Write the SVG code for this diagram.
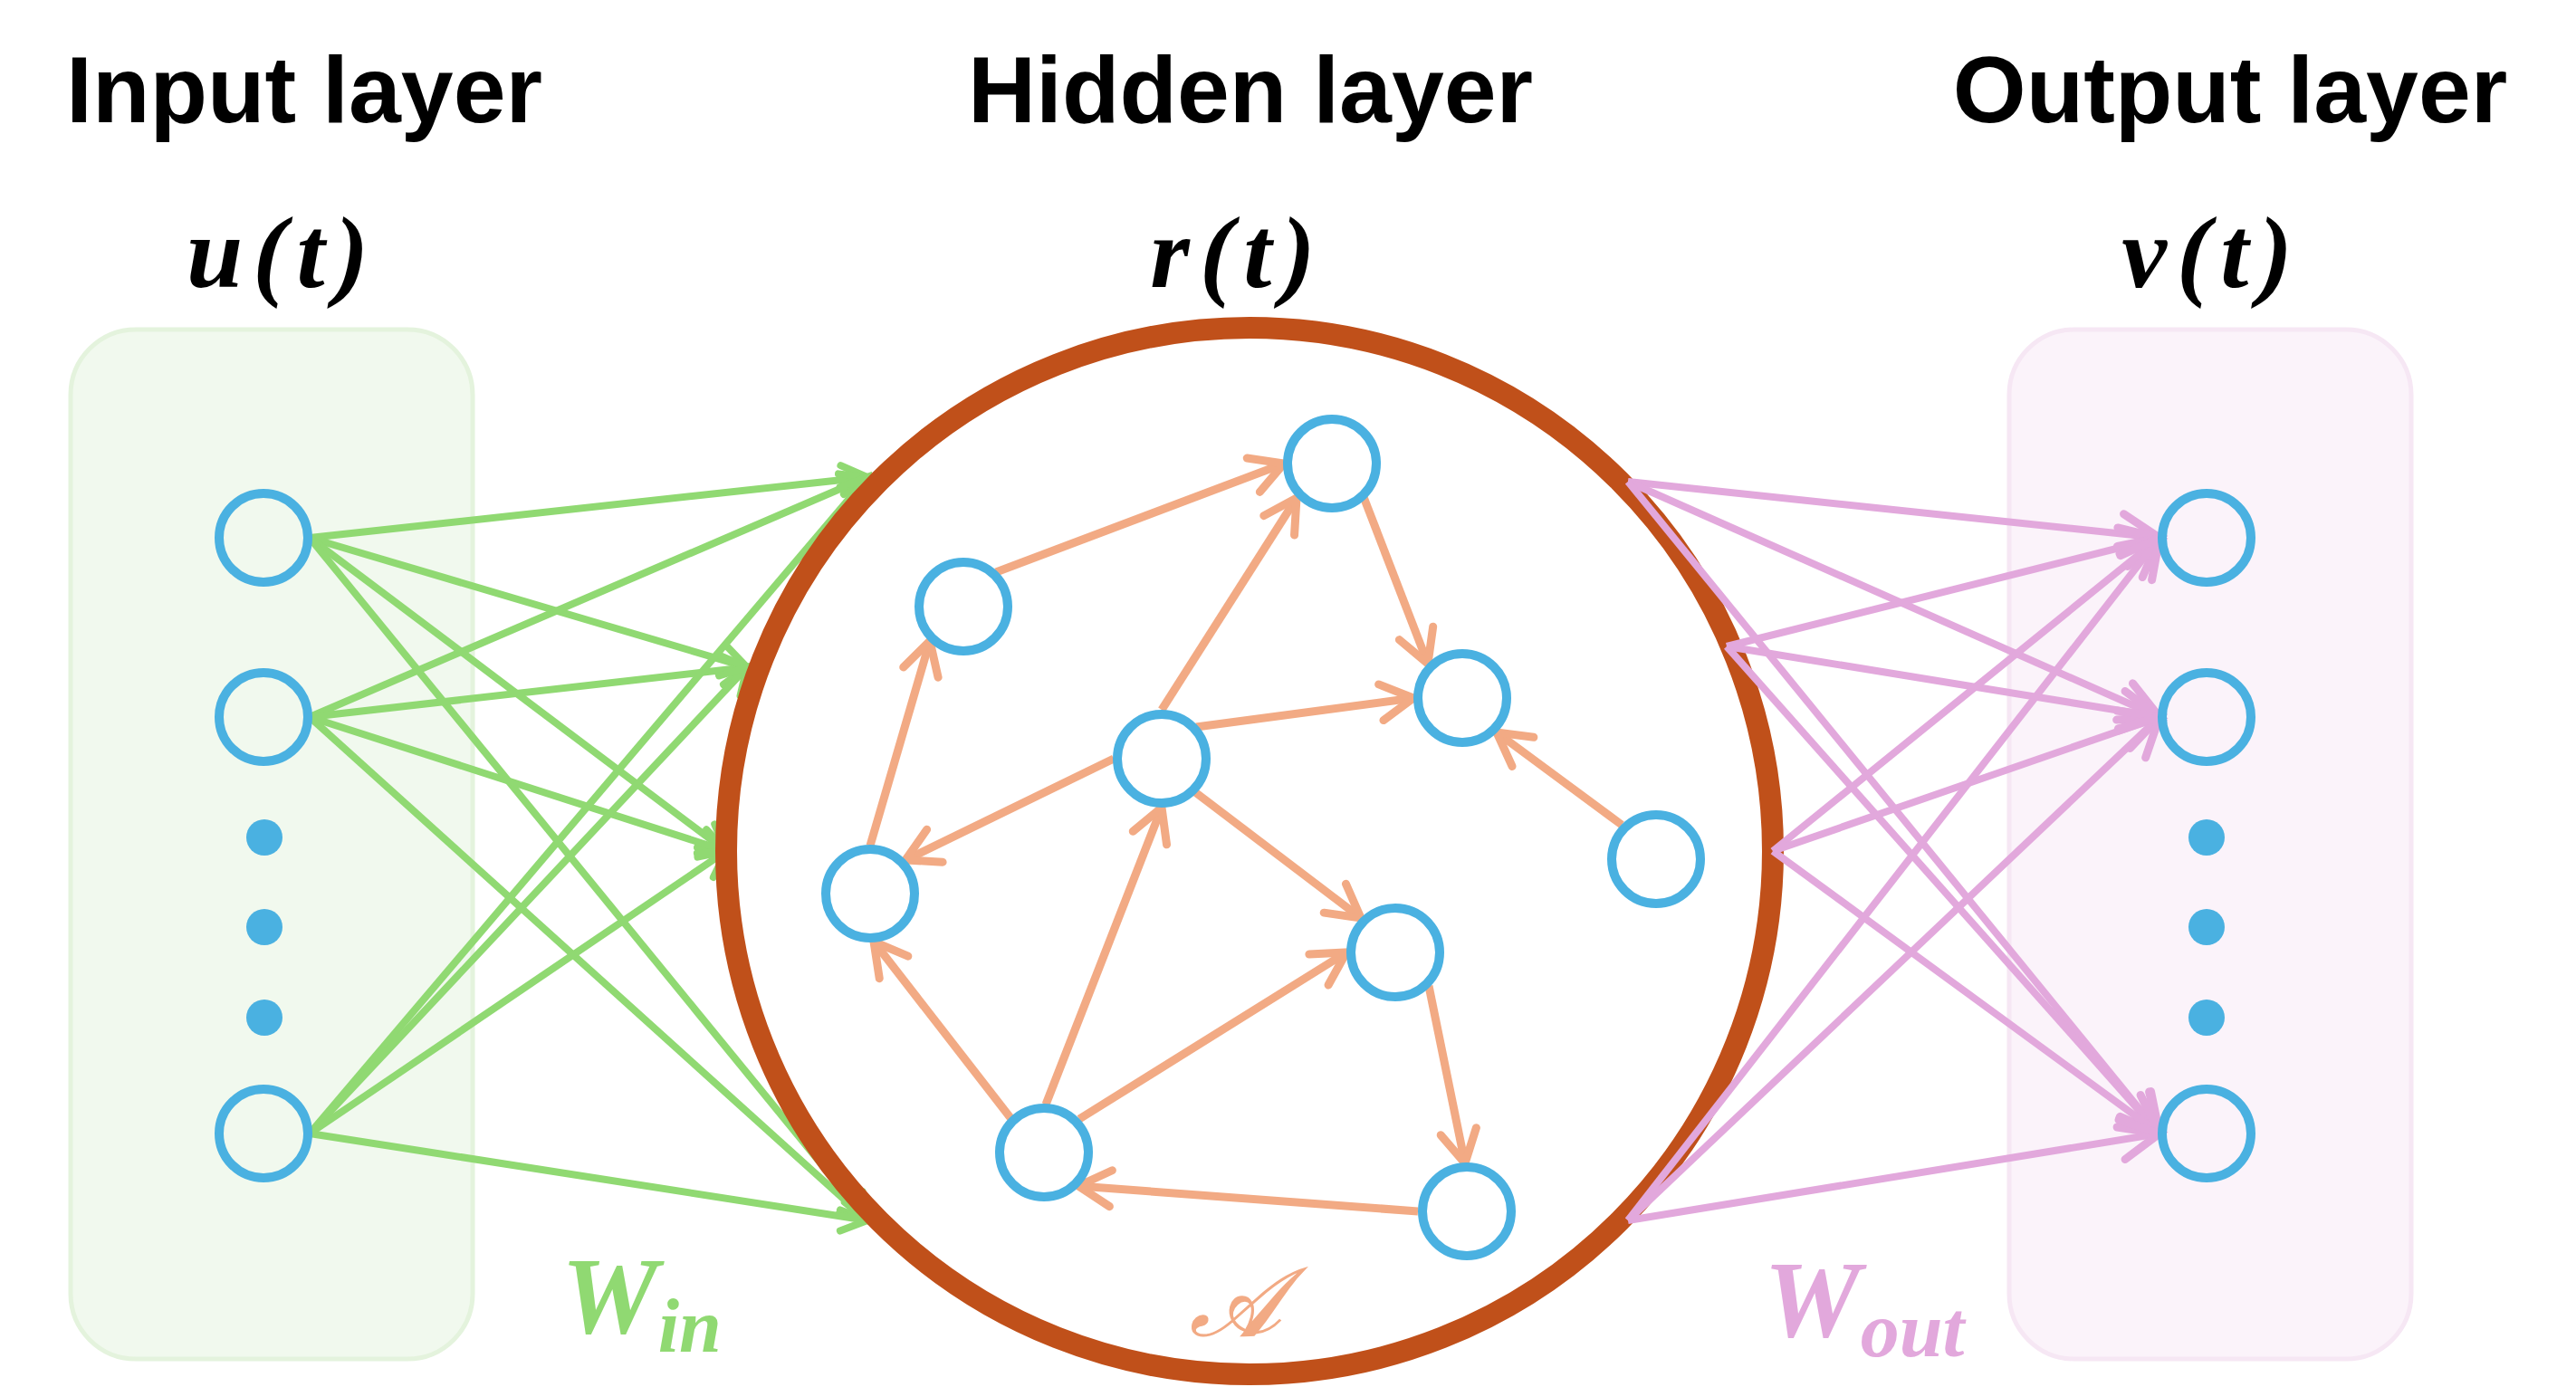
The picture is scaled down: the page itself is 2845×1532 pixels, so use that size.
<svg xmlns="http://www.w3.org/2000/svg" width="2845" height="1532" viewBox="0 0 2845 1532">
<style>
.title{font-family:"Liberation Sans",Arial,sans-serif;font-weight:bold;font-size:104px;fill:#000;text-anchor:middle}
.math{font-family:"Liberation Serif","Times New Roman",serif;font-weight:bold;font-style:italic;font-size:112px;fill:#000;text-anchor:middle;letter-spacing:11px}
.node{fill:none;stroke:#4AB1E1;stroke-width:10}
.dot{fill:#4AB1E1}
.g{stroke:#90D972;stroke-width:8;fill:none;marker-end:url(#ag)}
.o{stroke:#F2AA84;stroke-width:9;fill:none;marker-end:url(#ao)}
.p{stroke:#E2A8DC;stroke-width:8;fill:none;marker-end:url(#ap)}
.lab{font-family:"Liberation Serif","Times New Roman",serif;font-weight:bold;font-style:italic}
</style>
<defs>
<marker id="ag" markerUnits="userSpaceOnUse" viewBox="-40 -25 46 50" refX="0" refY="0" markerWidth="46" markerHeight="50" orient="auto" overflow="visible">
<path d="M-28,-16 L0,0 L-28,16" fill="none" stroke="#90D972" stroke-width="8" stroke-linecap="round" stroke-linejoin="miter"/>
</marker>
<marker id="ao" markerUnits="userSpaceOnUse" viewBox="-45 -25 50 50" refX="0" refY="0" markerWidth="50" markerHeight="50" orient="auto" overflow="visible">
<path d="M-36,-20 L0,0 L-36,20" fill="none" stroke="#F2AA84" stroke-width="9" stroke-linecap="round" stroke-linejoin="miter"/>
</marker>
<marker id="ap" markerUnits="userSpaceOnUse" viewBox="-50 -30 55 60" refX="0" refY="0" markerWidth="55" markerHeight="60" orient="auto" overflow="visible">
<path d="M-42,-22 L0,0 L-42,22" fill="none" stroke="#E2A8DC" stroke-width="9" stroke-linecap="round" stroke-linejoin="miter"/>
</marker>
</defs>
<rect width="2845" height="1532" fill="#fff"/>

<g id="input-panel">
<rect x="78" y="364" width="444" height="1137" rx="72" fill="#F1F9EE" stroke="#E4F3DD" stroke-width="5"/>
</g>
<g id="output-panel">
<rect x="2219" y="364" width="444" height="1137" rx="72" fill="#FBF3FA" stroke="#F6E7F4" stroke-width="5"/>
</g>

<g id="titles">
<text class="title" x="336" y="135">Input layer</text>
<text class="title" x="1381" y="135">Hidden layer</text>
<text class="title" x="2463" y="135">Output layer</text>
<text class="math" x="312" y="317">u(t)</text>
<text class="math" x="1367" y="317">r(t)</text>
<text class="math" x="2443" y="317">v(t)</text>
</g>

<g id="connectors-in">
<line class="g" x1="342" y1="594" x2="958" y2="527"/>
<line class="g" x1="342" y1="594" x2="825" y2="737"/>
<line class="g" x1="342" y1="594" x2="802" y2="940"/>
<line class="g" x1="342" y1="594" x2="958" y2="1348"/>
<line class="g" x1="342" y1="792" x2="958" y2="527"/>
<line class="g" x1="342" y1="792" x2="825" y2="737"/>
<line class="g" x1="342" y1="792" x2="802" y2="940"/>
<line class="g" x1="342" y1="792" x2="958" y2="1348"/>
<line class="g" x1="342" y1="1252" x2="958" y2="527"/>
<line class="g" x1="342" y1="1252" x2="825" y2="737"/>
<line class="g" x1="342" y1="1252" x2="802" y2="940"/>
<line class="g" x1="342" y1="1252" x2="958" y2="1348"/>
</g>

<g id="reservoir">
<circle cx="1380" cy="940" r="578" fill="none" stroke="#C0501A" stroke-width="24"/>
</g>

<g id="connectors-hidden">
<line class="o" x1="1100" y1="632" x2="1418" y2="512"/>
<line class="o" x1="1506" y1="549" x2="1577" y2="733"/>
<line class="o" x1="1283" y1="784" x2="1432" y2="550"/>
<line class="o" x1="1321" y1="803" x2="1561" y2="771"/>
<line class="o" x1="1230" y1="838" x2="1000" y2="950"/>
<line class="o" x1="961" y1="934" x2="1027" y2="708"/>
<line class="o" x1="1320" y1="875" x2="1503" y2="1014"/>
<line class="o" x1="1791" y1="911" x2="1653" y2="809"/>
<line class="o" x1="1155" y1="1220" x2="1283" y2="892"/>
<line class="o" x1="1117" y1="1236" x2="965" y2="1040"/>
<line class="o" x1="1192" y1="1236" x2="1487" y2="1052"/>
<line class="o" x1="1566" y1="1338" x2="1191" y2="1310"/>
<line class="o" x1="1578" y1="1089" x2="1618" y2="1285"/>
</g>

<g id="connectors-out">
<line class="p" x1="1798" y1="532" x2="2385" y2="594"/>
<line class="p" x1="1798" y1="532" x2="2385" y2="792"/>
<line class="p" x1="1798" y1="532" x2="2385" y2="1252"/>
<line class="p" x1="1907" y1="714" x2="2385" y2="594"/>
<line class="p" x1="1907" y1="714" x2="2385" y2="792"/>
<line class="p" x1="1907" y1="714" x2="2385" y2="1252"/>
<line class="p" x1="1958" y1="940" x2="2385" y2="594"/>
<line class="p" x1="1958" y1="940" x2="2385" y2="792"/>
<line class="p" x1="1958" y1="940" x2="2385" y2="1252"/>
<line class="p" x1="1798" y1="1348" x2="2385" y2="594"/>
<line class="p" x1="1798" y1="1348" x2="2385" y2="792"/>
<line class="p" x1="1798" y1="1348" x2="2385" y2="1252"/>
</g>

<g id="input-nodes">
<circle id="in1" class="node" cx="291" cy="594" r="49"/>
<circle id="in2" class="node" cx="291" cy="792" r="49"/>
<circle class="dot" cx="292" cy="925" r="20"/>
<circle class="dot" cx="292" cy="1024" r="20"/>
<circle class="dot" cx="292" cy="1124" r="20"/>
<circle id="in3" class="node" cx="291" cy="1252" r="49"/>
</g>

<g id="hidden-nodes">
<circle id="hA" class="node" cx="1471" cy="512" r="49"/>
<circle id="hB" class="node" cx="1064" cy="670" r="49"/>
<circle id="hC" class="node" cx="1615" cy="771" r="49"/>
<circle id="hD" class="node" cx="1283" cy="838" r="49"/>
<circle id="hE" class="node" cx="961" cy="987" r="49"/>
<circle id="hF" class="node" cx="1829" cy="949" r="49"/>
<circle id="hG" class="node" cx="1541" cy="1052" r="49"/>
<circle id="hH" class="node" cx="1153" cy="1273" r="49"/>
<circle id="hI" class="node" cx="1620" cy="1338" r="49"/>
</g>

<g id="output-nodes">
<circle id="out1" class="node" cx="2437" cy="594" r="49"/>
<circle id="out2" class="node" cx="2437" cy="792" r="49"/>
<circle class="dot" cx="2437" cy="925" r="20"/>
<circle class="dot" cx="2437" cy="1024" r="20"/>
<circle class="dot" cx="2437" cy="1124" r="20"/>
<circle id="out3" class="node" cx="2437" cy="1252" r="49"/>
</g>

<g id="labels">
<text class="lab" x="620" y="1472" font-size="120" fill="#90D972">W<tspan font-size="84" dy="21">in</tspan></text>
<text x="1364" y="1475" font-size="106" fill="#F2AA84" stroke="#F2AA84" stroke-width="1.5" text-anchor="middle" font-family="'DejaVu Serif','Noto Sans','Liberation Serif',serif" font-style="italic">𝒜</text>
<text class="lab" x="1948" y="1476" font-size="120" fill="#E2A8DC">W<tspan font-size="86" dy="22">out</tspan></text>
</g>
</svg>
